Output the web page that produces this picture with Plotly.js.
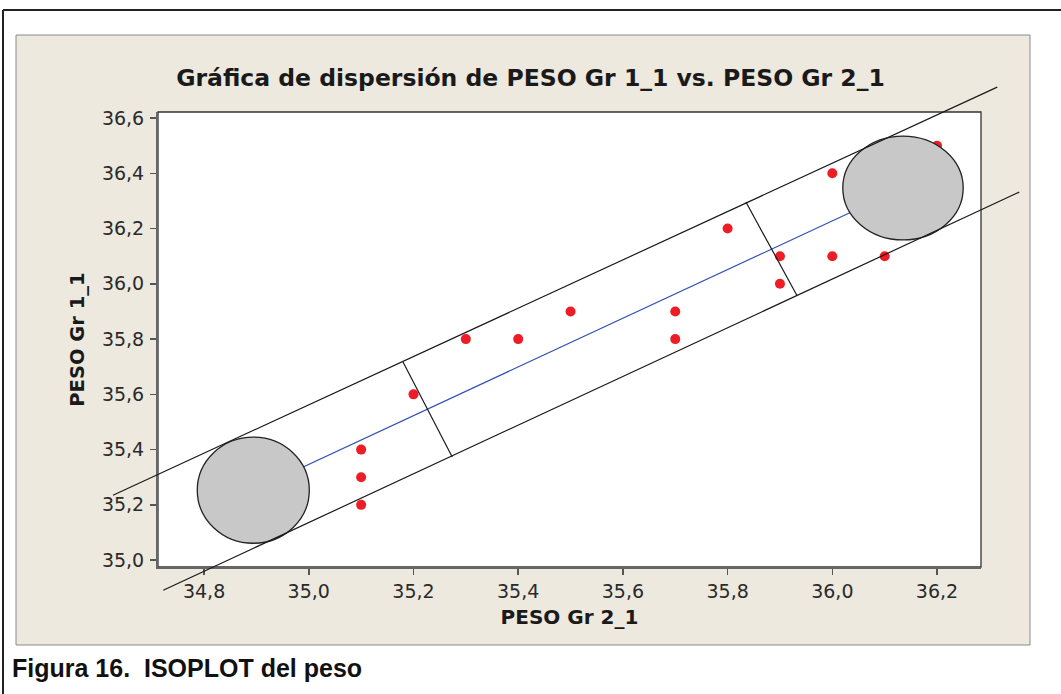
<!DOCTYPE html>
<html>
<head>
<meta charset="utf-8">
<script src="https://cdn.plot.ly/plotly-3.0.1.min.js"></script>
<style>html,body{margin:0;padding:0;background:#fff;}#chart{width:1061px;height:694px;}</style>
</head>
<body>
<div id="chart"></div>
<script>
// Scatter data
const pesoGr2_1 = [35.1, 35.1, 35.1, 35.2, 35.3, 35.4, 35.5, 35.7, 35.7, 35.8, 35.9, 35.9, 36.0, 36.0, 36.1, 36.2];
const pesoGr1_1 = [35.4, 35.3, 35.2, 35.6, 35.8, 35.8, 35.9, 35.9, 35.8, 36.2, 36.1, 36.0, 36.4, 36.1, 36.1, 36.5];

// Isoplot elements (data units)
const circleX = [34.894, 36.135];
const circleY = [35.253, 36.347];
const circleRx = [0.107, 0.115];
const circleRy = [0.192, 0.188];
const bandUpperX = [34.626, 36.315];
const bandUpperY = [35.235, 36.712];
const bandLowerX = [34.722, 36.357];
const bandLowerY = [34.891, 36.332];
const cut1X = [35.180, 35.274];
const cut1Y = [35.717, 35.373];
const cut2X = [35.835, 35.933];
const cut2Y = [36.296, 35.956];

const xTicks = [34.8, 35.0, 35.2, 35.4, 35.6, 35.8, 36.0, 36.2];
const yTicks = [35.0, 35.2, 35.4, 35.6, 35.8, 36.0, 36.2, 36.4, 36.6];

const xRange = [34.712, 36.284];
const yRange = [34.975, 36.622];

function px(x){ return (x - xRange[0]) / (xRange[1] - xRange[0]); }
function py(y){ return (y - yRange[0]) / (yRange[1] - yRange[0]); }
function paperLine(xs, ys, color, width){
  return {type:'line', xref:'paper', yref:'paper', layer:'above',
    x0:px(xs[0]), y0:py(ys[0]), x1:px(xs[1]), y1:py(ys[1]),
    line:{color:color, width:width}};
}

const W = 1061, H = 694, L = 158, R = 80, T = 112, B = 127;
const pw = W - L - R, ph = H - T - B;
function fx(pix){ return (pix - L) / pw; }
function fy(pix){ return (H - B - pix) / ph; }

const traces = [
  {x:[circleX[0], circleX[1]], y:[circleY[0], circleY[1]], mode:'lines',
   line:{color:'#3252b4', width:1.2}, hoverinfo:'skip', showlegend:false},
  {x:pesoGr2_1, y:pesoGr1_1, mode:'markers', type:'scatter',
   marker:{color:'#ee1c25', size:10}, showlegend:false}
];

const shapes = [
  // beige panel
  {type:'rect', xref:'paper', yref:'paper', layer:'below',
   x0:fx(16), x1:fx(1030), y0:fy(645), y1:fy(35),
   fillcolor:'#ede9df', line:{color:'#8a8a8a', width:1}},
  // white plot area
  {type:'rect', xref:'paper', yref:'paper', layer:'below',
   x0:0, x1:1, y0:0, y1:1, fillcolor:'#ffffff', line:{color:'#333333', width:1.3}},
  // outer frame
  {type:'line', xref:'paper', yref:'paper', layer:'above',
   x0:fx(3), x1:fx(1061), y0:fy(10), y1:fy(10), line:{color:'#222', width:2}},
  {type:'line', xref:'paper', yref:'paper', layer:'above',
   x0:fx(3), x1:fx(3), y0:fy(10), y1:fy(694), line:{color:'#222', width:2}},
  // circles
  {type:'circle', xref:'x', yref:'y', layer:'above',
   x0:circleX[0]-circleRx[0], x1:circleX[0]+circleRx[0], y0:circleY[0]-circleRy[0], y1:circleY[0]+circleRy[0],
   fillcolor:'#c8c8c8', line:{color:'#222', width:1.3}},
  {type:'circle', xref:'x', yref:'y', layer:'above',
   x0:circleX[1]-circleRx[1], x1:circleX[1]+circleRx[1], y0:circleY[1]-circleRy[1], y1:circleY[1]+circleRy[1],
   fillcolor:'#c8c8c8', line:{color:'#222', width:1.3}},
  paperLine(bandUpperX, bandUpperY, '#1a1a1a', 1.2),
  paperLine(bandLowerX, bandLowerY, '#1a1a1a', 1.2),
  paperLine(cut1X, cut1Y, '#1a1a1a', 1.2),
  paperLine(cut2X, cut2Y, '#1a1a1a', 1.2)
];

const tickFont = {family:'DejaVu Sans, Verdana, sans-serif', size:19, color:'#2a2a2a'};
const axTitleFont = {family:'DejaVu Sans, Verdana, sans-serif', size:20, color:'#1a1a1a', weight:'bold'};

const layout = {
  width:W, height:H,
  margin:{l:L, r:R, t:T, b:B},
  paper_bgcolor:'#ffffff',
  plot_bgcolor:'#ffffff',
  separators:',.',
  showlegend:false,
  title:{text:'<b>Gráfica de dispersión de PESO Gr 1_1 vs. PESO Gr 2_1</b>',
    font:{family:'DejaVu Sans, Verdana, sans-serif', size:23.5, color:'#1a1a1a'},
    x:0.5, xref:'container', y:1 - 78/H, yref:'container', yanchor:'middle', xanchor:'center'},
  xaxis:{range:xRange, tickvals:xTicks, tickformat:'.1f', showgrid:false, zeroline:false,
    showline:true, linecolor:'#666', linewidth:2, ticks:'outside', ticklen:6, tickwidth:1.5, tickcolor:'#555',
    tickfont:tickFont,
    title:{text:'<b>PESO Gr 2_1</b>', font:axTitleFont, standoff:9}},
  yaxis:{range:yRange, tickvals:yTicks, tickformat:'.1f', showgrid:false, zeroline:false,
    showline:true, linecolor:'#666', linewidth:2, ticks:'outside', ticklen:6, tickwidth:1.5, tickcolor:'#555',
    tickfont:tickFont, ticklabelstandoff:2,
    title:{text:'<b>PESO Gr 1_1</b>', font:{family:'DejaVu Sans, Verdana, sans-serif', size:19.5, color:'#1a1a1a', weight:'bold'}, standoff:12}},
  shapes:shapes,
  annotations:[
    {text:'<b>Figura 16.  ISOPLOT del peso</b>', xref:'paper', yref:'paper',
     x:fx(10), y:fy(668), xanchor:'left', yanchor:'middle', showarrow:false,
     font:{family:'Liberation Sans, Arial, sans-serif', size:25, color:'#111'}}
  ]
};

Plotly.newPlot('chart', traces, layout, {displayModeBar:false, staticPlot:true});
</script>
</body>
</html>
